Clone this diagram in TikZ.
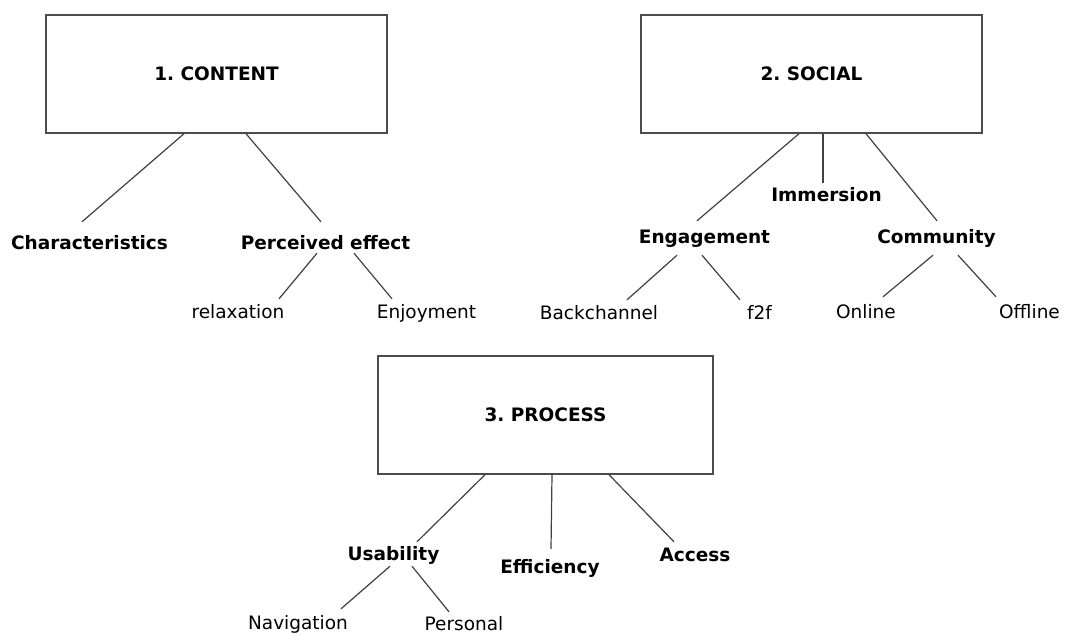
\documentclass[tikz,border=0pt]{standalone}
\usepackage{fontspec}
\setmainfont{DejaVu Sans}
\usepackage{tikz}
\frenchspacing

\newcommand{\lblsize}{\fontsize{18.5}{20}\selectfont}
\tikzset{
  topicbox/.style={draw=black!70,line width=1.4pt,minimum width=#1,minimum height=118pt,inner sep=0pt,font=\lblsize\bfseries},
  topicbox/.default=341pt,
  headlbl/.style={inner sep=0pt,anchor=base,text height=13pt,text depth=3pt,font=\lblsize\bfseries},
  leaflbl/.style={inner sep=0pt,anchor=base,text height=13pt,text depth=3pt,font=\lblsize},
  branch/.style={draw=black!75,line width=1.2pt}
}

\begin{document}
\begin{tikzpicture}[x=1pt,y=-1pt]
            \useasboundingbox (0,0) rectangle (1092,633);
            \node[topicbox] (content) at (216.5,74) {1. CONTENT};
            \node[topicbox] (social) at (811.5,74) {2. SOCIAL};
            \node[topicbox=335pt] (process) at (545.5,415) {3. PROCESS};
            \node[headlbl] (charact) at (89.5,249) {Characteristics};
            \node[headlbl] (perceived) at (325.5,249) {Perceived effect};
            \node[leaflbl] (relax) at (238,318) {relaxation};
            \node[leaflbl] (enjoy) at (426.5,318) {Enjoyment};
            \node[headlbl] (immersion) at (826.5,201) {Immersion};
            \node[headlbl] (engage) at (704.5,243) {Engagement};
            \node[headlbl] (community) at (936.5,243) {Community};
            \node[leaflbl] (backch) at (599,319) {Backchannel};
            \node[leaflbl] (ftf) at (759.5,319) {f2f};
            \node[leaflbl] (online) at (866,318) {Online};
            \node[leaflbl] (offline) at (1029.5,318) {Offline};
            \node[headlbl] (usab) at (393.5,560) {Usability};
            \node[headlbl] (effic) at (550,573) {Efficiency};
            \node[headlbl] (access) at (695,561) {Access};
            \node[leaflbl] (navig) at (298,629) {Navigation};
            \node[leaflbl] (personal) at (464,630) {Personal};
            \draw[branch] ([xshift=-32.5pt]content.south) -- ([xshift=-7.5pt,yshift=14pt]charact.north);
            \draw[branch] ([xshift=29.5pt]content.south) -- ([xshift=-4.5pt,yshift=14pt]perceived.north);
            \draw[branch] ([xshift=-8.5pt,yshift=-1pt]perceived.south) -- ([xshift=41pt,yshift=6pt]relax.north);
            \draw[branch] ([xshift=28.5pt,yshift=-1pt]perceived.south) -- ([xshift=-34.5pt,yshift=6pt]enjoy.north);
            \draw[branch] ([xshift=-12.5pt]social.south) -- ([xshift=-7.5pt,yshift=9pt]engage.north);
            \draw[branch] ([xshift=11.5pt]social.south) -- ([xshift=-3.5pt,yshift=5pt]immersion.north);
            \draw[branch] ([xshift=54.5pt]social.south) -- ([xshift=0.5pt,yshift=9pt]community.north);
            \draw[branch] ([xshift=-27.5pt,yshift=-9pt]engage.south) -- ([xshift=28pt,yshift=6pt]backch.north);
            \draw[branch] ([xshift=-2.5pt,yshift=-9pt]engage.south) -- ([xshift=-19.5pt,yshift=6pt]ftf.north);
            \draw[branch] ([xshift=-3.5pt,yshift=-9pt]community.south) -- ([xshift=17pt,yshift=8pt]online.north);
            \draw[branch] ([xshift=21.5pt,yshift=-9pt]community.south) -- ([xshift=-33.5pt,yshift=8pt]offline.north);
            \draw[branch] ([xshift=-60.5pt]process.south) -- ([xshift=23.5pt,yshift=5pt]usab.north);
            \draw[branch] ([xshift=6.5pt]process.south) -- ([xshift=1pt,yshift=11pt]effic.north);
            \draw[branch] ([xshift=63.5pt]process.south) -- ([xshift=-21pt,yshift=6pt]access.north);
            \draw[branch] ([xshift=-3.5pt,yshift=-3pt]usab.south) -- ([xshift=43pt,yshift=7pt]navig.north);
            \draw[branch] ([xshift=18.5pt,yshift=-3pt]usab.south) -- ([xshift=-15pt,yshift=5pt]personal.north);
\end{tikzpicture}
\end{document}
